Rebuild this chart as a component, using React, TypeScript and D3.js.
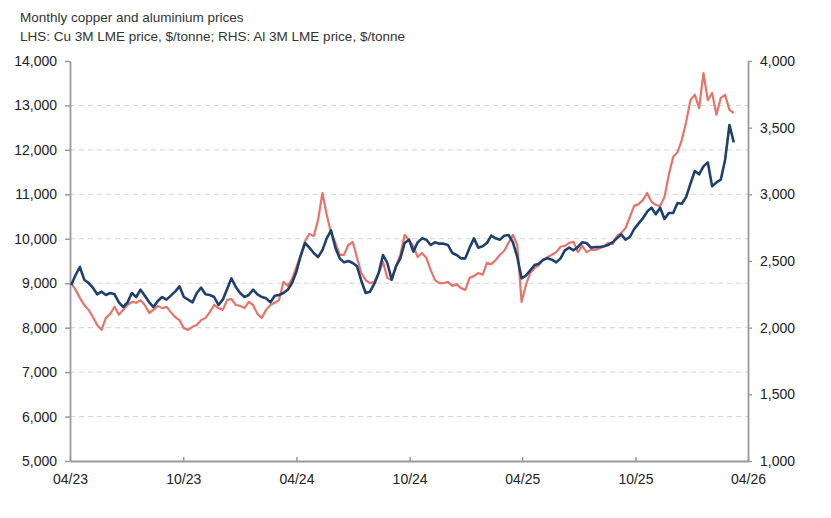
import React, { useEffect, useRef } from 'react';
import * as d3 from 'd3';

// Weekly readings, first week starting Mon 3 Apr 2023
const firstWeek = new Date(2023, 3, 3);

// Cu 3M LME, $/tonne (left axis)
const cuPrices = [
  9000, 8850, 8670, 8510, 8400, 8240, 8060, 7950, 8220, 8310,
  8470, 8290, 8400, 8510, 8580, 8560, 8620, 8510, 8330, 8400,
  8490, 8440, 8470, 8350, 8240, 8170, 7990, 7950, 8020, 8060,
  8170, 8220, 8350, 8510, 8440, 8400, 8620, 8650, 8510, 8490,
  8440, 8580, 8510, 8310, 8220, 8400, 8510, 8560, 8620, 9030,
  8940, 9100, 9370, 9640, 9950, 10110, 10060, 10420, 11030, 10540,
  10130, 9910, 9640, 9640, 9860, 9930, 9570, 9230, 9070, 9000,
  9030, 9230, 9480, 9120, 9070, 9390, 9640, 10090, 9970, 9840,
  9590, 9680, 9570, 9300, 9070, 9000, 9000, 9030, 8940, 8980,
  8890, 8850, 9120, 9160, 9230, 9190, 9460, 9430, 9520, 9640,
  9730, 9910, 10090, 9860, 8580, 8960, 9230, 9340, 9410, 9520,
  9590, 9640, 9700, 9820, 9840, 9910, 9930, 9700, 9840, 9700,
  9750, 9750, 9790, 9820, 9910, 9880, 10060, 10130, 10240, 10490,
  10740, 10780, 10870, 11030, 10830, 10760, 10740, 10940, 11440, 11840,
  11950, 12220, 12630, 13120, 13240, 12940, 13730, 13120, 13280, 12790,
  13170, 13240, 12900, 12830,
];

// Al 3M LME, $/tonne (right axis)
const alPrices = [
  2320, 2395, 2455, 2360, 2335, 2300, 2250, 2270, 2245, 2260,
  2250, 2190, 2155, 2190, 2260, 2230, 2285, 2240, 2190, 2155,
  2200, 2230, 2210, 2240, 2270, 2310, 2230, 2210, 2190, 2260,
  2300, 2250, 2245, 2230, 2170, 2210, 2290, 2370, 2305, 2260,
  2230, 2245, 2285, 2250, 2230, 2220, 2190, 2240, 2245, 2260,
  2285, 2335, 2420, 2540, 2635, 2600, 2560, 2530, 2580, 2670,
  2730, 2600, 2520, 2490, 2500, 2485, 2460, 2350, 2260, 2270,
  2330, 2410, 2545, 2485, 2360, 2460, 2520, 2635, 2660, 2570,
  2640, 2670, 2660, 2620, 2640, 2630, 2630, 2620, 2560, 2545,
  2520, 2520, 2600, 2670, 2600, 2610, 2635, 2690, 2670, 2660,
  2690, 2695, 2640, 2530, 2370, 2390, 2430, 2470, 2480, 2510,
  2520, 2510, 2490, 2520, 2580, 2600, 2580, 2605, 2640, 2635,
  2600, 2605, 2605, 2610, 2620, 2640, 2670, 2700, 2660, 2680,
  2740, 2780, 2820, 2870, 2900, 2850, 2900, 2815, 2860, 2860,
  2935, 2930, 2980, 3080, 3175, 3150, 3210, 3240, 3060, 3090,
  3110, 3260, 3520, 3390,
];

const leftTicks = [5000, 6000, 7000, 8000, 9000, 10000, 11000, 12000, 13000, 14000];
const rightTicks = [1000, 1500, 2000, 2500, 3000, 3500, 4000];
const xTickDates = ['2023-04-01', '2023-10-01', '2024-04-01', '2024-10-01', '2025-04-01', '2025-10-01', '2026-04-01'];

const titleLines = [
  'Monthly copper and aluminium prices',
  'LHS: Cu 3M LME price, $/tonne; RHS: Al 3M LME price, $/tonne',
];

const width = 831;
const height = 518;

const App: React.FC = () => {
  const svgRef = useRef<SVGSVGElement>(null);

  useEffect(() => {
    if (!svgRef.current) return;
    const svg = d3.select(svgRef.current);
    svg.selectAll('*').remove();

    const font = 'Arial, "Liberation Sans", sans-serif';
    const margin = { top: 61, right: 83, bottom: 57, left: 70 };
    const innerW = width - margin.left - margin.right;
    const innerH = height - margin.top - margin.bottom;

    const parse = d3.timeParse('%Y-%m-%d');
    const tickDates = xTickDates.map((s) => parse(s) as Date);

    const x = d3.scaleTime()
      .domain([tickDates[0], tickDates[tickDates.length - 1]])
      .range([0, innerW]);
    const yL = d3.scaleLinear().domain([5000, 14000]).range([innerH, 0]);
    const yR = d3.scaleLinear().domain([1000, 4000]).range([innerH, 0]);

    const weeks = cuPrices.map((_, i) => d3.timeWeek.offset(firstWeek, i));

    // titles
    svg.selectAll('.title')
      .data(titleLines)
      .enter()
      .append('text')
      .attr('x', 20)
      .attr('y', (_, i) => 22 + i * 19)
      .style('font-family', font)
      .style('font-size', '13.5px')
      .attr('fill', '#333')
      .text((d) => d);

    const g = svg.append('g').attr('transform', `translate(${margin.left},${margin.top})`);

    // dashed grid
    g.append('g')
      .selectAll('line')
      .data(leftTicks.slice(1, -1))
      .enter()
      .append('line')
      .attr('x1', 0)
      .attr('x2', innerW)
      .attr('y1', (d) => yL(d))
      .attr('y2', (d) => yL(d))
      .attr('stroke', '#d4d4d4')
      .attr('stroke-width', 1)
      .attr('stroke-dasharray', '5,4');

    const styleAxis = (sel: d3.Selection<SVGGElement, unknown, null, undefined>) => {
      sel.select('.domain').attr('stroke', '#9a9a9a').attr('stroke-width', 1.8);
      sel.selectAll('.tick line').attr('stroke', '#9a9a9a').attr('stroke-width', 1.5);
      sel.selectAll('.tick text')
        .style('font-family', font)
        .style('font-size', '14px')
        .attr('fill', '#222');
    };

    const fmt = d3.format(',');

    const left = g.append('g')
      .call(d3.axisLeft(yL).tickValues(leftTicks).tickFormat((d) => fmt(d as number)).tickSizeInner(5).tickSizeOuter(0).tickPadding(8));
    styleAxis(left);

    const right = g.append('g')
      .attr('transform', `translate(${innerW},0)`)
      .call(d3.axisRight(yR).tickValues(rightTicks).tickFormat((d) => fmt(d as number)).tickSizeInner(4).tickSizeOuter(0).tickPadding(8));
    styleAxis(right);

    const bottom = g.append('g')
      .attr('transform', `translate(0,${innerH})`)
      .call(d3.axisBottom(x).tickValues(tickDates).tickFormat((d) => d3.timeFormat('%m/%y')(d as Date)).tickSizeInner(-4).tickSizeOuter(0).tickPadding(10));
    styleAxis(bottom);
    bottom.selectAll('.tick text').attr('dy', '0.95em');

    // series
    const cuLine = d3.line<number>()
      .x((_, i) => x(weeks[i]))
      .y((d) => yL(d))
      .curve(d3.curveLinear);
    const alLine = d3.line<number>()
      .x((_, i) => x(weeks[i]))
      .y((d) => yR(d))
      .curve(d3.curveLinear);

    g.append('path')
      .datum(cuPrices)
      .attr('fill', 'none')
      .attr('stroke', '#e8736a')
      .attr('stroke-width', 2.2)
      .attr('stroke-linejoin', 'round')
      .attr('d', cuLine);

    g.append('path')
      .datum(alPrices)
      .attr('fill', 'none')
      .attr('stroke', '#1d406e')
      .attr('stroke-width', 2.6)
      .attr('stroke-linejoin', 'round')
      .attr('d', alLine);
  }, []);

  return (
    <svg
      ref={svgRef}
      width={width}
      height={height}
      style={{ position: 'absolute', left: 0, top: 0, background: '#fff' }}
    />
  );
};

export default App;
